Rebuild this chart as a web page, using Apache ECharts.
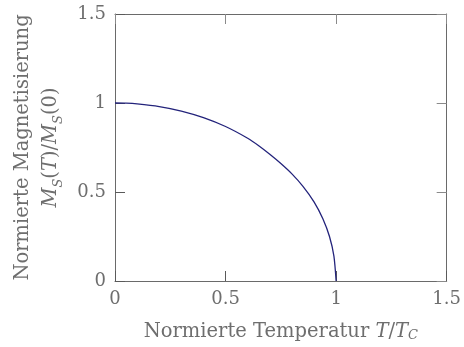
<!DOCTYPE html>
<html>
<head>
<meta charset="utf-8">
<script src="https://cdn.jsdelivr.net/npm/echarts@6/dist/echarts.min.js"></script>
<style>
html,body{margin:0;padding:0;background:#fff;}
#pic1{width:464px;height:347px;}
</style>
</head>
<body>
<div id="pic1"></div>
<script>
// normierte Temperatur T/Tc und Magnetisierung Ms(T)/Ms(0)
var tempNorm = [0, 0.05, 0.1, 0.2, 0.3, 0.4, 0.5, 0.6, 0.65, 0.7, 0.75, 0.8, 0.85, 0.9, 0.94, 0.97, 0.99, 1.0];
var magNorm  = [1.0, 0.999, 0.995, 0.98, 0.955, 0.918, 0.868, 0.802, 0.76, 0.712, 0.66, 0.602, 0.532, 0.445, 0.35, 0.25, 0.14, 0];
var ticks = [0, 0.5, 1, 1.5];

var grau = '#6e6e6e';
var schrift = 'DejaVu Serif';
var gr = 18;
var tg = 19.5;

var kurve = [];
for (var i = 0; i < tempNorm.length; i++) {
    kurve.push([tempNorm[i], magNorm[i]]);
}

var myChart = echarts.init(document.getElementById('pic1'));

function achse(pos, zeigeLabel, tickFarbe) {
    return {
        type: 'value',
        position: pos,
        min: ticks[0],
        max: ticks[ticks.length - 1],
        interval: 0.5,
        axisLine: {show: true, onZero: false, lineStyle: {color: '#6a6a6a', width: 1}},
        axisTick: {show: true, inside: true, length: 10, lineStyle: {color: tickFarbe, width: 1}},
        splitLine: {show: false},
        axisLabel: {show: zeigeLabel, color: grau, fontFamily: schrift, fontSize: gr, margin: 9}
    };
}

var xUnten = achse('bottom', true, '#5a5a5a');
xUnten.name = 'Normierte Temperatur {i|T}/{i|T}{s|C}';
xUnten.nameLocation = 'middle';
xUnten.nameGap = 41;
xUnten.nameTextStyle = {
    color: grau, fontFamily: schrift, fontSize: tg,
    rich: {
        i: {fontStyle: 'italic', color: grau, fontFamily: schrift, fontSize: tg},
        s: {fontStyle: 'italic', color: grau, fontFamily: schrift, fontSize: 13, verticalAlign: 'bottom', padding: [6, 0, 0, 0]}
    }
};

var yLinks = achse('left', true, '#5a5a5a');
yLinks.name = '{a|Normierte Magnetisierung}\n{i|M}{s|S}{a|(}{i|T}{a|)/}{i|M}{s|S}{a|(0)}';
yLinks.nameLocation = 'middle';
yLinks.nameGap = 50;
yLinks.nameRotate = 90;
yLinks.nameTextStyle = {
    color: grau, fontFamily: schrift, fontSize: tg, lineHeight: 28,
    rich: {
        a: {color: grau, fontFamily: schrift, fontSize: tg, lineHeight: 28},
        i: {fontStyle: 'italic', color: grau, fontFamily: schrift, fontSize: tg, lineHeight: 28},
        s: {fontStyle: 'italic', color: grau, fontFamily: schrift, fontSize: 13, lineHeight: 28, verticalAlign: 'bottom', padding: [6, 0, 0, 0]}
    }
};

option = {
    animation: false,
    grid: {left: 115, right: 14, top: 14, bottom: 62},
    xAxis: [xUnten, achse('top', false, '#8a8a8a')],
    yAxis: [yLinks, achse('right', false, '#8a8a8a')],
    series: [
        {
            type: 'line',
            data: kurve,
            showSymbol: false,
            smooth: 0.25,
            lineStyle: {color: '#23237b', width: 1.3}
        }
    ]
};
myChart.setOption(option);
</script>
</body>
</html>
